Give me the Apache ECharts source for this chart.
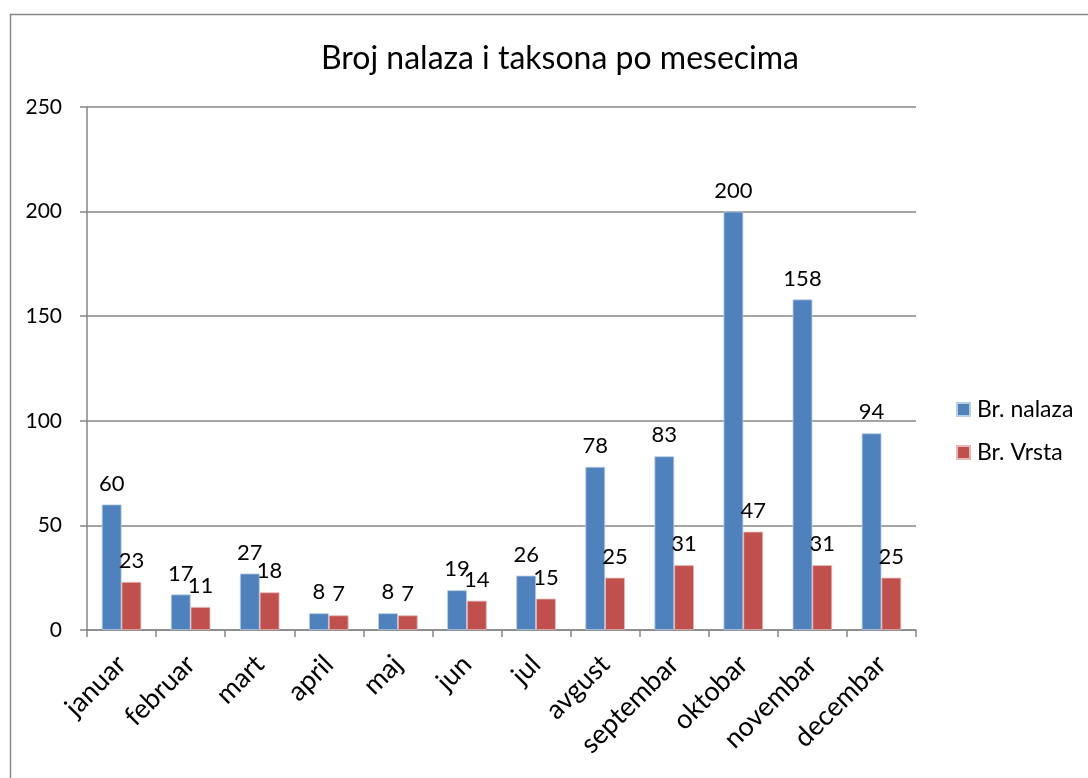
<!DOCTYPE html>
<html>
<head>
<meta charset="utf-8">
<script src="https://cdn.jsdelivr.net/npm/echarts@6/dist/echarts.min.js"></script>
<style>
  html, body { margin: 0; padding: 0; background: #fff; }
  #chart { width: 1088px; height: 778px; }
</style>
</head>
<body>
<div id="chart"></div>
<script>
// Monthly counts of records and taxa
const months = ['januar', 'februar', 'mart', 'april', 'maj', 'jun', 'jul', 'avgust', 'septembar', 'oktobar', 'novembar', 'decembar'];
const nalaza = [60, 17, 27, 8, 8, 19, 26, 78, 83, 200, 158, 94];
const vrsta = [23, 11, 18, 7, 7, 14, 15, 25, 31, 47, 31, 25];
const yTicks = [0, 50, 100, 150, 200, 250];

const FONT = 'Lato, "Open Sans", sans-serif';
const chart = echarts.init(document.getElementById('chart'));

const labelStyle = { show: true, position: 'top', distance: 10, fontFamily: FONT, fontSize: 22, color: '#000' };

chart.setOption({
  animation: false,
  graphic: [{
    type: 'rect',
    shape: { x: 10.5, y: 14.5, width: 1100, height: 800 },
    style: { fill: 'none', stroke: '#868686', lineWidth: 1.5 }
  }],
  title: {
    text: 'Broj nalaza i taksona po mesecima',
    left: 555, top: 38, textAlign: 'center',
    textStyle: { fontFamily: FONT, fontSize: 32, fontWeight: 'normal', color: '#000' }
  },
  legend: {
    orient: 'vertical', left: 951, top: 393,
    itemWidth: 13, itemHeight: 13, itemGap: 20,
    icon: 'rect',
    textStyle: { fontFamily: FONT, fontSize: 23, color: '#000', padding: [0, 0, 0, 2] },
    data: ['Br. nalaza', 'Br. Vrsta']
  },
  grid: { left: 87, right: 172, top: 107, bottom: 148, containLabel: false },
  xAxis: {
    type: 'category', data: months,
    axisLine: { lineStyle: { color: '#868686', width: 1.5 } },
    axisTick: { show: true, length: 7, alignWithLabel: false, lineStyle: { color: '#868686', width: 1.5 } },
    axisLabel: { rotate: 45, fontFamily: FONT, fontSize: 27, color: '#000', margin: 30, interval: 0 }
  },
  yAxis: {
    type: 'value', min: 0, max: 250, interval: 50,
    axisLine: { show: true, lineStyle: { color: '#868686', width: 1.5 } },
    axisTick: { show: true, length: 7, lineStyle: { color: '#868686', width: 1.5 } },
    splitLine: { lineStyle: { color: '#868686', width: 1.5 } },
    axisLabel: {
      fontFamily: FONT, fontSize: 21, color: '#000', margin: 25,
      formatter: v => yTicks.includes(v) ? String(v) : ''
    }
  },
  series: [
    {
      name: 'Br. nalaza', type: 'bar', data: nalaza,
      barGap: '0%', barCategoryGap: '42.8%',
      itemStyle: { color: '#4F81BD', borderColor: '#B9CDE5', borderWidth: 0.8 },
      label: labelStyle
    },
    {
      name: 'Br. Vrsta', type: 'bar', data: vrsta,
      itemStyle: { color: '#C0504D', borderColor: '#E6B9B8', borderWidth: 0.8 },
      label: labelStyle
    }
  ]
});
</script>
</body>
</html>
